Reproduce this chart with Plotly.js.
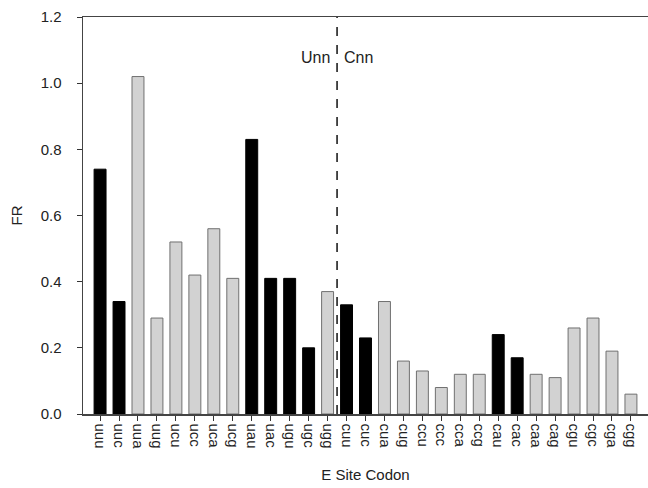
<!DOCTYPE html>
<html>
<head>
<meta charset="utf-8">
<script src="https://cdn.plot.ly/plotly-3.0.1.min.js"></script>
<style>html,body{margin:0;padding:0;background:#fff;}#chart{width:648px;height:488px;}</style>
</head>
<body>
<div id="chart"></div>
<script>
const codons = ["uuu","uuc","uua","uug","ucu","ucc","uca","ucg","uau","uac","ugu","ugc","ugg",
                "cuu","cuc","cua","cug","ccu","ccc","cca","ccg","cau","cac","caa","cag","cgu","cgc","cga","cgg"];
const frValues = [0.74,0.34,1.02,0.29,0.52,0.42,0.56,0.41,0.83,0.41,0.41,0.20,0.37,
                  0.33,0.23,0.34,0.16,0.13,0.08,0.12,0.12,0.24,0.17,0.12,0.11,0.26,0.29,0.19,0.06];
const isDark = [1,1,0,0,0,0,0,0,1,1,1,1,0,
                1,1,0,0,0,0,0,0,1,1,0,0,0,0,0,0];
const yTicks = [0,0.2,0.4,0.6,0.8,1.0,1.2];

const fill = isDark.map(d => d ? "#000000" : "#d2d2d2");
const edge = isDark.map(d => d ? "#000000" : "#707070");
const xIdx = codons.map((c,i) => i);

const trace = {
  type: "bar",
  x: xIdx,
  y: frValues,
  width: 0.63,
  marker: {color: fill, line: {color: edge, width: 1}},
  hoverinfo: "x+y"
};

const layout = {
  width: 648, height: 488,
  margin: {l: 83, r: 0, t: 17, b: 74},
  paper_bgcolor: "#fff", plot_bgcolor: "#fff",
  font: {family: "Liberation Sans, Arial, sans-serif", size: 15, color: "#222"},
  showlegend: false,
  xaxis: {
    range: [-0.9, 28.9],
    tickmode: "array", tickvals: xIdx, ticktext: codons,
    tickangle: 90,
    ticks: "outside", ticklen: 5, tickcolor: "#333", tickwidth: 1,
    showline: true, linecolor: "#444", linewidth: 1.5, mirror: true,
    showgrid: false, zeroline: false,
    tickfont: {size: 15, color: "#222"},
    title: {text: "E Site Codon", font: {size: 15, color: "#222"}, standoff: 21}
  },
  yaxis: {
    range: [0, 1.2],
    tickmode: "array", tickvals: yTicks, ticktext: yTicks.map(v => v.toFixed(1)),
    ticks: "outside", ticklen: 5, tickcolor: "#333", tickwidth: 1,
    ticklabelstandoff: 12,
    showline: true, linecolor: "#444", linewidth: 1.5,
    showgrid: false, zeroline: false,
    tickfont: {size: 15, color: "#222"},
    title: {text: "FR", font: {size: 15, color: "#222"}, standoff: 14}
  },
  shapes: [{
    type: "line", xref: "x", yref: "y", x0: 12.5, x1: 12.5, y0: 0, y1: 1.2,
    line: {color: "#111", width: 1.5, dash: "dash"}
  }],
  annotations: [
    {text: "Unn", xref: "x", yref: "y", x: 12.5, y: 1.078, xanchor: "right", xshift: -5, showarrow: false, font: {size: 16, color: "#222"}},
    {text: "Cnn", xref: "x", yref: "y", x: 12.5, y: 1.078, xanchor: "left", xshift: 5, showarrow: false, font: {size: 16, color: "#222"}}
  ]
};

Plotly.newPlot("chart", [trace], layout, {displayModeBar: false, staticPlot: true});
</script>
</body>
</html>
